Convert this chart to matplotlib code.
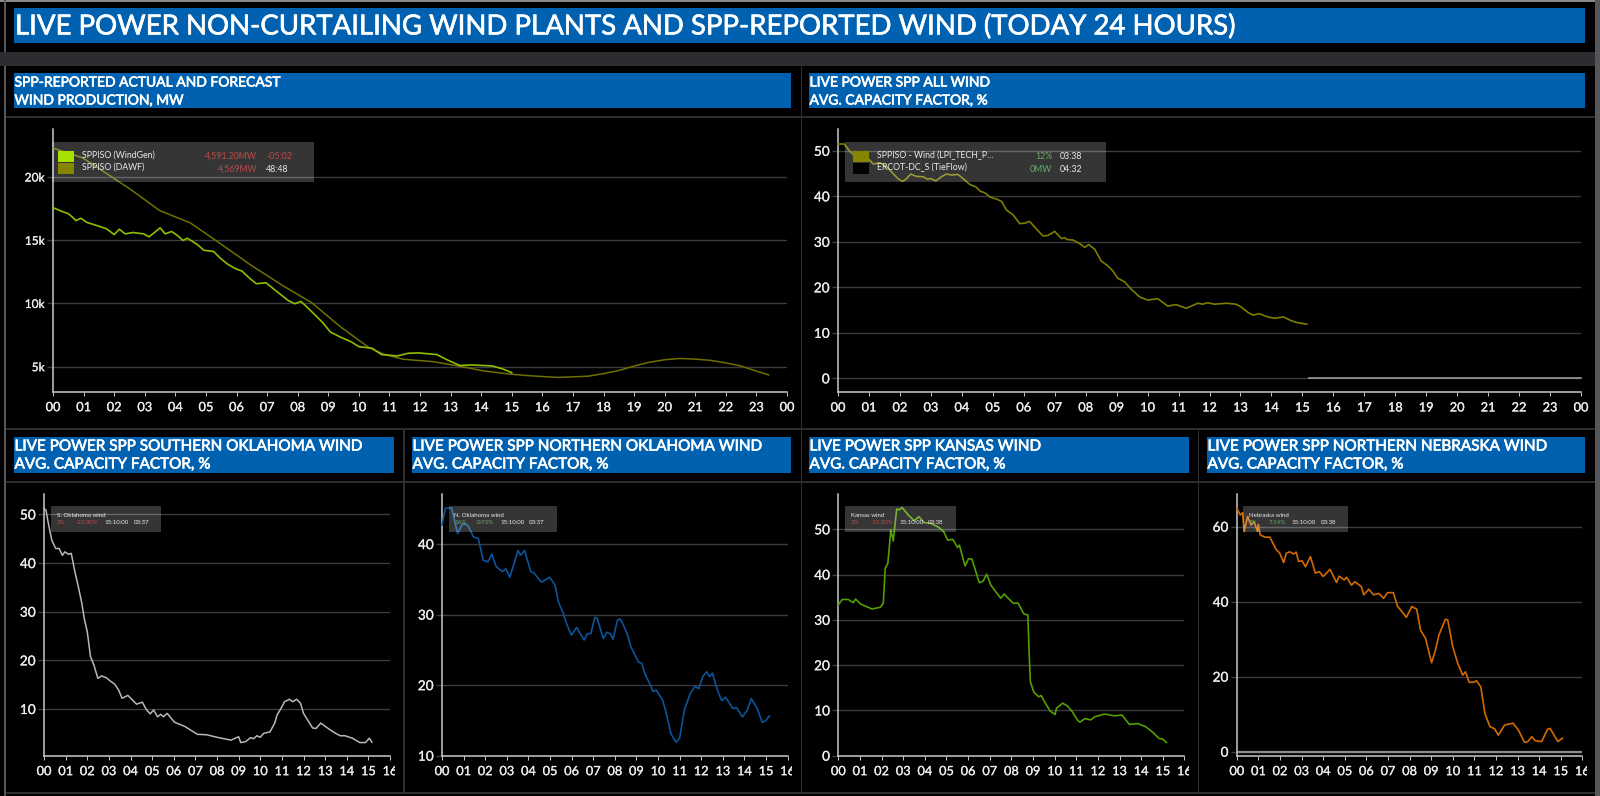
import matplotlib
matplotlib.use('Agg')
import matplotlib.pyplot as plt
import matplotlib.patheffects as pe
from matplotlib.patches import Rectangle
from matplotlib.transforms import Bbox

plt.rcParams['font.family'] = ['Lato', 'Open Sans', 'DejaVu Sans']

W, H = 1600, 796
BLUE = '#0061b0'
DIV = '#2c2d31'
GRID = '#3c3d42'
AXIS = '#c9c9c9'
TXT = '#ececec'
RED = '#bf4a4a'
GREEN = '#66b068'

main_title = 'LIVE POWER NON-CURTAILING WIND PLANTS AND SPP-REPORTED WIND (TODAY 24 HOURS)'

# data (hours since midnight, value)
gen_h = [0, .28, .49, .63, .75, .91, 1.10, 1.33, 1.74, 2.0, 2.17, 2.36, 2.62, 2.97, 3.14, 3.32, 3.50, 3.67, 3.88,
         4.08, 4.25, 4.39, 4.72, 4.93, 5.25, 5.48, 5.71, 5.95, 6.18, 6.41, 6.65, 6.96, 7.29, 7.70, 7.90, 8.11,
         8.46, 8.81, 9.07, 9.39, 9.74, 10.0, 10.44, 10.74, 11.26, 11.61, 11.96, 12.55, 12.90, 13.31, 13.66,
         14.36, 14.71, 15.0]
gen_v = [17580, 17290, 17110, 16840, 16550, 16740, 16420, 16240, 15920, 15450, 15870, 15500, 15610, 15500, 15270,
         15610, 15980, 15500, 15690, 15350, 14980, 15160, 14660, 14210, 14110, 13560, 13110, 12770, 12560, 12030,
         11560, 11640, 11000, 10220, 9980, 10160, 9350, 8510, 7740, 7350, 6980, 6590, 6450, 5960, 5850, 6060,
         6090, 5960, 5530, 5090, 5140, 5060, 4820, 4530]
dawf_h = [0, .98, 1.68, 2.5, 3.49, 4.49, 5.42, 6.47, 7.52, 8.46, 9.39, 10.33, 10.79, 11.44, 12.43, 13.36, 14.07,
          15.0, 15.5, 16.5, 17.5, 18, 18.5, 19, 19.5, 20, 20.5, 21, 21.5, 22, 22.5, 23, 23.4]
dawf_v = [22290, 21500, 20390, 19080, 17340, 16370, 14820, 13030, 11400, 10060, 8170, 6510, 6010, 5590, 5400, 5010,
          4670, 4400, 4300, 4150, 4250, 4450, 4700, 5050, 5350, 5550, 5650, 5600, 5500, 5300, 5050, 4650, 4350]

all_h = [0, .2, .38, .55, 1.0, 1.14, 1.35, 1.57, 1.78, 1.95, 2.09, 2.2, 2.35, 2.52, 2.75, 2.88, 3.0, 3.16, 3.34,
         3.5, 3.66, 3.88, 4.04, 4.26, 4.45, 4.6, 4.74, 4.92, 5.12, 5.28, 5.44, 5.66, 5.87, 6.03, 6.19, 6.41, 6.62,
         6.78, 7.0, 7.22, 7.32, 7.4, 7.59, 7.81, 7.97, 8.1, 8.29, 8.5, 8.72, 8.88, 9.04, 9.26, 9.47, 9.74, 10.0,
         10.33, 10.65, 10.92, 11.25, 11.62, 11.78, 11.94, 12.16, 12.54, 12.86, 13.02, 13.24, 13.4, 13.61, 13.88,
         14.1, 14.39, 14.63, 14.8, 15.14]
all_v = [51.5, 51.5, 49.9, 48.9, 48.1, 47.1, 47.4, 46.5, 45.0, 43.8, 43.3, 43.8, 44.9, 44.4, 44.3, 43.8, 43.9, 43.4,
         44.3, 44.9, 44.7, 44.8, 43.9, 42.6, 42.1, 41.1, 40.8, 39.8, 39.4, 38.9, 37.0, 35.9, 34.0, 34.1, 34.5, 32.8,
         31.3, 31.4, 32.3, 30.7, 30.9, 30.5, 30.4, 29.6, 28.8, 29.4, 28.4, 25.8, 24.7, 23.6, 22.0, 21.2, 19.6, 17.9,
         17.2, 17.5, 15.9, 16.2, 15.4, 16.5, 16.3, 16.6, 16.3, 16.5, 16.3, 15.7, 14.5, 13.9, 14.2, 13.5, 13.2, 13.5,
         12.7, 12.3, 11.9]
tie_h = [15.2, 24]
tie_v = [0, 0]

so_h = [0, .09, .2, .36, .54, .7, .85, .96, 1.14, 1.26, 1.41, 1.59, 1.75, 1.86, 2.0, 2.15, 2.31, 2.49, 2.67, 2.89,
        3.05, 3.27, 3.45, 3.61, 3.88, 4.1, 4.28, 4.55, 4.73, 4.91, 5.07, 5.25, 5.4, 5.52, 5.7, 6.03, 6.52, 7.09,
        7.53, 7.98, 8.65, 9.0, 9.1, 9.33, 9.55, 9.7, 9.84, 10.0, 10.16, 10.45, 10.67, 10.78, 10.96, 11.12, 11.35,
        11.5, 11.68, 11.86, 12.0, 12.24, 12.42, 12.58, 12.8, 13.14, 13.48, 13.7, 13.92, 14.26, 14.6, 14.87, 15.04,
        15.16]
so_v = [51.2, 50.9, 48.2, 44.7, 43.0, 43.0, 41.6, 42.3, 41.8, 42.0, 38.6, 35.1, 31.7, 28.6, 25.9, 20.8, 19.0, 16.3,
        16.8, 16.4, 15.8, 15.1, 13.9, 12.2, 12.8, 11.8, 11.0, 11.4, 9.9, 9.0, 9.8, 8.4, 8.9, 8.4, 9.1, 7.3, 6.4, 4.8,
        4.7, 4.2, 3.6, 4.3, 3.1, 3.3, 4.1, 3.9, 4.5, 4.2, 5.0, 5.3, 7.1, 8.8, 10.1, 11.5, 12.0, 11.5, 12.0, 11.2, 9.1,
        7.4, 6.1, 6.0, 7.1, 6.0, 5.0, 4.5, 4.5, 4.0, 3.1, 3.1, 4.0, 3.2]

no_h = [0, .16, .45, .56, .72, .96, 1.19, 1.46, 1.68, 1.91, 2.13, 2.31, 2.51, 2.8, 2.96, 3.14, 3.52, 3.64, 3.82,
        4.11, 4.26, 4.6, 4.98, 5.23, 5.39, 5.61, 5.79, 5.99, 6.24, 6.4, 6.58, 6.73, 6.89, 7.07, 7.18, 7.47, 7.63,
        7.79, 7.92, 8.12, 8.24, 8.37, 8.57, 8.75, 9.09, 9.25, 9.38, 9.65, 9.76, 9.92, 10.21, 10.37, 10.6, 10.84,
        11.0, 11.22, 11.49, 11.71, 11.89, 12.07, 12.25, 12.39, 12.52, 12.75, 12.95, 13.13, 13.46, 13.64, 13.91,
        14.14, 14.32, 14.59, 14.83, 14.99, 15.15]
no_v = [42.7, 45.1, 45.1, 43.6, 41.5, 42.9, 42.7, 41.0, 40.8, 37.7, 37.5, 38.6, 36.8, 36.1, 36.5, 35.3, 39.1, 38.4,
        39.1, 36.1, 35.9, 34.6, 35.3, 34.2, 31.8, 30.2, 28.5, 27.1, 28.2, 27.3, 26.4, 27.3, 27.3, 29.6, 29.5, 26.6,
        27.5, 27.3, 26.5, 29.2, 29.4, 28.7, 27.3, 25.4, 23.3, 23.1, 21.7, 20.0, 19.1, 19.3, 17.9, 16.2, 13.1, 11.9,
        12.5, 16.5, 18.8, 19.8, 19.5, 21.2, 21.9, 21.2, 21.7, 19.3, 17.8, 18.3, 16.7, 16.8, 15.5, 16.5, 18.1, 16.7,
        14.7, 15.0, 15.6]

ks_h = [0, .18, .46, .69, .8, 1.03, 1.56, 1.95, 2.08, 2.17, 2.29, 2.43, 2.54, 2.7, 2.81, 2.95, 3.23, 3.5, 3.73, 3.96,
        4.3, 4.65, 4.87, 5.06, 5.29, 5.51, 5.6, 5.86, 6.02, 6.18, 6.36, 6.52, 6.7, 6.86, 7.05, 7.28, 7.51, 7.67, 7.85,
        8.08, 8.31, 8.58, 8.76, 8.83, 8.88, 9.04, 9.27, 9.38, 9.57, 9.79, 10.02, 10.09, 10.37, 10.59, 10.82, 11.05,
        11.17, 11.4, 11.67, 11.85, 12.31, 12.77, 13.11, 13.46, 13.84, 14.21, 14.53, 14.83, 14.99, 15.17]
ks_v = [33.3, 34.5, 34.5, 33.8, 34.6, 33.5, 32.4, 32.8, 33.7, 41.4, 42.5, 49.9, 47.4, 54.5, 54.3, 54.8, 53.2, 51.9,
        52.8, 51.5, 51.3, 50.4, 49.5, 47.6, 47.8, 46.0, 46.5, 41.9, 43.5, 43.4, 40.6, 38.2, 38.6, 40.1, 37.7, 36.2,
        34.8, 35.7, 34.8, 33.7, 33.7, 31.3, 31.1, 21.9, 16.3, 14.0, 13.0, 13.3, 11.6, 9.9, 9.1, 10.5, 11.6, 11.0, 9.7,
        7.9, 7.4, 8.2, 7.9, 8.6, 9.2, 8.8, 9.0, 6.9, 7.1, 6.4, 5.2, 3.8, 3.7, 2.9]

ne_h = [0, .16, .27, .34, .5, .66, .8, .96, 1.0, 1.08, 1.3, 1.53, 1.81, 1.99, 2.17, 2.29, 2.45, 2.63, 2.75, 2.86,
        3.02, 3.18, 3.41, 3.64, 3.82, 4.0, 4.32, 4.62, 4.74, 4.97, 5.08, 5.31, 5.47, 5.77, 5.88, 6.11, 6.34, 6.57, 6.8,
        6.98, 7.25, 7.44, 7.71, 7.85, 8.1, 8.33, 8.51, 8.74, 9.02, 9.2, 9.36, 9.66, 9.77, 10.0, 10.23, 10.46, 10.59,
        10.76, 10.96, 11.1, 11.3, 11.49, 11.72, 11.94, 12.11, 12.4, 12.79, 13.04, 13.32, 13.48, 13.66, 13.82, 14.12,
        14.39, 14.51, 14.87, 15.08]
ne_v = [64.9, 63.1, 63.7, 58.7, 62.7, 60.4, 61.3, 58.7, 60.6, 57.8, 57.2, 57.2, 54.0, 52.9, 50.4, 52.9, 53.3, 52.7,
        53.2, 50.7, 50.9, 49.3, 52.0, 47.6, 48.0, 46.7, 48.6, 45.1, 46.8, 45.8, 46.5, 44.4, 45.3, 44.0, 41.8, 43.3,
        41.8, 42.2, 40.9, 42.4, 42.4, 38.8, 36.9, 35.8, 38.7, 38.0, 32.4, 30.2, 23.7, 27.1, 31.1, 35.3, 35.1, 28.0,
        23.6, 20.4, 21.3, 18.5, 18.5, 18.9, 17.3, 10.2, 6.7, 6.1, 4.4, 7.1, 7.6, 5.8, 2.5, 2.7, 4.0, 2.9, 2.7, 6.0, 6.2,
        2.7, 3.6]

hours_top = list(range(25))
hours_low = list(range(17))
top_labels = ['%02d' % (h % 24) for h in hours_top]
low_labels = ['%02d' % h for h in hours_low]

fig = plt.figure(figsize=(W / 100, H / 100), dpi=100, facecolor='black')

# the reference text is a bit heavier than plain Lato
heavy = [pe.withStroke(linewidth=0.45, foreground='white')]
heavy_small = [pe.withStroke(linewidth=0.2, foreground='#e0e0e0')]


def px_axes(x0, y0, x1, y1, z):
    return fig.add_axes([x0 / W, 1 - y1 / H, (x1 - x0) / W, (y1 - y0) / H], zorder=z)


# backdrop and overlay in pixel coordinates
bg = px_axes(0, 0, W, H, 0)
fg = px_axes(0, 0, W, H, 5)
for a in (bg, fg):
    a.set_xlim(0, W)
    a.set_ylim(H, 0)
    a.axis('off')
    a.patch.set_alpha(0)


def box(a, x0, y0, x1, y1, color, alpha=1.0):
    a.add_patch(Rectangle((x0, y0), x1 - x0, y1 - y0, facecolor=color, edgecolor='none', alpha=alpha))


# frame and dividers
box(bg, 0, 0, W, 1.5, '#8a8a8a')
box(bg, 3.5, 0, 6, H, '#55565a')
box(bg, 1595, 0, 1600, H, '#55565a')
box(bg, 0, 52, 1595, 66, DIV)
box(bg, 6, 116, 1595, 117.5, DIV)
box(bg, 6, 428, 1595, 430, DIV)
box(bg, 6, 481, 1595, 482.5, DIV)
box(bg, 6, 792, 1595, 794, DIV)
box(bg, 800.5, 66, 802, 792, DIV)
box(bg, 403, 430, 404.5, 792, DIV)
box(bg, 1197.5, 430, 1199, 792, DIV)

# title bands
box(bg, 14, 8, 1585, 43, BLUE)
bg.text(15, 26, main_title, color='white', fontsize=19.85, va='center', ha='left', path_effects=heavy)

headers = [
    (14, 73, 791, 108, 10.0, 'SPP-REPORTED ACTUAL AND FORECAST', 'WIND PRODUCTION, MW'),
    (809, 73, 1585, 108, 10.0, 'LIVE POWER SPP ALL WIND', 'AVG. CAPACITY FACTOR, %'),
    (14, 437, 394, 473, 11.0, 'LIVE POWER SPP SOUTHERN OKLAHOMA WIND', 'AVG. CAPACITY FACTOR, %'),
    (412, 437, 791, 473, 11.0, 'LIVE POWER SPP NORTHERN OKLAHOMA WIND', 'AVG. CAPACITY FACTOR, %'),
    (809, 437, 1189, 473, 11.0, 'LIVE POWER SPP KANSAS WIND', 'AVG. CAPACITY FACTOR, %'),
    (1207, 437, 1585, 473, 11.0, 'LIVE POWER SPP NORTHERN NEBRASKA WIND', 'AVG. CAPACITY FACTOR, %'),
]
for x0, y0, x1, y1, fs, l1, l2 in headers:
    box(bg, x0, y0, x1, y1, BLUE)
    bg.text(x0 + 0.5, y0 + 9.5, l1, color='white', fontsize=fs, va='center', ha='left', path_effects=heavy)
    bg.text(x0 + 0.5, y0 + 27.5, l2, color='white', fontsize=fs, va='center', ha='left', path_effects=heavy)


def panel(rect, ylim, yticks, ylabels, hours, labels, series, clip_x=None, tick_fs=9.2, ytick_fs=9.8):
    ax = px_axes(rect[0], rect[1], rect[2], rect[3], 2)
    ax.patch.set_alpha(0)
    for xs, ys, c, lw in series:
        ax.plot(xs, ys, color=c, lw=lw, solid_joinstyle='round', clip_on=False, zorder=3)
    ax.set_xlim(hours[0], hours[-1])
    ax.set_ylim(*ylim)
    ax.set_xticks(hours)
    ax.set_xticklabels(labels)
    ax.set_yticks(yticks)
    ax.set_yticklabels(ylabels)
    ax.grid(axis='y', color=GRID, lw=1.0, zorder=1)
    ax.set_axisbelow(True)
    for s in ('top', 'right'):
        ax.spines[s].set_visible(False)
    for s in ('left', 'bottom'):
        ax.spines[s].set_color(AXIS)
        ax.spines[s].set_linewidth(1.1)
    ax.tick_params(axis='x', colors=AXIS, labelcolor=TXT, length=3, width=0.7, pad=3.8, labelsize=tick_fs)
    ax.tick_params(axis='y', color=GRID, labelcolor=TXT, length=4.5, width=1.0, pad=1.5, labelsize=ytick_fs)
    for lab in ax.get_xticklabels() + ax.get_yticklabels():
        lab.set_path_effects(heavy_small)
    if clip_x is not None:
        lab = ax.get_xticklabels()[-1]
        lab.set_clip_box(Bbox([[0, 0], [clip_x, H]]))
        lab.set_clip_on(True)
    return ax


panel((53, 129, 787, 391.7), (3023, 23795), [5000, 10000, 15000, 20000], ['5k', '10k', '15k', '20k'],
      hours_top, top_labels, [(dawf_h, dawf_v, '#6f7000', 1.1), (gen_h, gen_v, '#8fbd00', 1.2)], ytick_fs=8.6)
panel((838, 129, 1581, 392), (-3.0, 54.8), [0, 10, 20, 30, 40, 50], ['0', '10', '20', '30', '40', '50'],
      hours_top, top_labels, [(all_h, all_v, '#7d7d00', 1.2), (tie_h, tie_v, '#9a9a9a', 1.2)])
panel((44, 494, 390, 755.7), (0.4, 54.2), [10, 20, 30, 40, 50], ['10', '20', '30', '40', '50'],
      hours_low, low_labels, [(so_h, so_v, '#b8b8b8', 1.1)], clip_x=394.5)
panel((442, 494, 787.6, 755.7), (10, 47.1), [10, 20, 30, 40], ['10', '20', '30', '40'],
      hours_low, low_labels, [(no_h, no_v, '#0b5499', 1.2)], clip_x=792)
panel((838.3, 494, 1184.4, 755.7), (0, 57.8), [0, 10, 20, 30, 40, 50], ['0', '10', '20', '30', '40', '50'],
      hours_low, low_labels, [(ks_h, ks_v, '#549e00', 1.2)], clip_x=1189)
ne_ax = panel((1236.8, 494, 1582.3, 755.7), (-1.07, 68.7), [0, 20, 40, 60], ['0', '20', '40', '60'],
              hours_low, low_labels, [(ne_h, ne_v, '#d26a00', 1.2)], clip_x=1587)
ne_ax.axhline(0, color='#8c8c8c', lw=1.6, zorder=2)

# legend boxes sit over the lines, semi transparent
box(fg, 52, 142, 314, 182, 'white', 0.21)
box(fg, 58, 151, 74, 162, '#a4e000')
box(fg, 58, 163, 74, 174, '#858500')
fg.text(82, 155, 'SPPISO (WindGen)', color=TXT, fontsize=6.3, va='center')
fg.text(82, 167.5, 'SPPISO (DAWF)', color=TXT, fontsize=6.3, va='center')
fg.text(257, 156.5, '4,591.20MW', color=RED, fontsize=6.3, va='center', ha='right')
fg.text(266, 156.5, '-05:02', color=RED, fontsize=6.3, va='center')
fg.text(257, 169, '4,569MW', color=RED, fontsize=6.3, va='center', ha='right')
fg.text(266, 169, '48:48', color=TXT, fontsize=6.3, va='center')

box(fg, 845, 142, 1106, 182, 'white', 0.21)
box(fg, 853, 151, 869, 162, '#858500')
box(fg, 853, 163, 869, 174, 'black')
fg.text(877, 155, 'SPPISO - Wind (LPI_TECH_P...', color=TXT, fontsize=6.3, va='center')
fg.text(877, 167.5, 'ERCOT-DC_S (TieFlow)', color=TXT, fontsize=6.3, va='center')
fg.text(1052, 156.5, '12%', color=GREEN, fontsize=6.3, va='center', ha='right')
fg.text(1060, 156.5, '03:38', color=TXT, fontsize=6.3, va='center')
fg.text(1052, 169, '0MW', color=GREEN, fontsize=6.3, va='center', ha='right')
fg.text(1060, 169, '04:32', color=TXT, fontsize=6.3, va='center')

small_legends = [
    (51, 161, 'S. Oklahoma wind', '3%', '-25.00%', '03:37', RED, (57, 76, 104, 134)),
    (449, 557, 'N. Oklahoma wind', '16%', '0.93%', '03:37', GREEN, (454, 477, 500, 529)),
    (845, 956, 'Kansas wind', '3%', '-15.00%', '03:38', RED, (851, 871, 899, 928)),
    (1243, 1348, 'Nebraska wind', '8%', '7.14%', '03:38', GREEN, (1249, 1269, 1291, 1321)),
]
for x0, x1, name, pct, chg, age, col, xs in small_legends:
    box(fg, x0, 506, x1, 532, 'white', 0.21)
    fg.text(xs[0], 515.5, name, color=TXT, fontsize=4.4, va='center')
    fg.text(xs[0], 522.8, pct, color=col, fontsize=4.4, va='center')
    fg.text(xs[1], 522.8, chg, color=col, fontsize=4.4, va='center')
    fg.text(xs[2], 522.8, '15:10:00', color=TXT, fontsize=4.4, va='center')
    fg.text(xs[3], 522.8, age, color=TXT, fontsize=4.4, va='center')

fig.savefig('out.png', dpi=100, facecolor='black')
